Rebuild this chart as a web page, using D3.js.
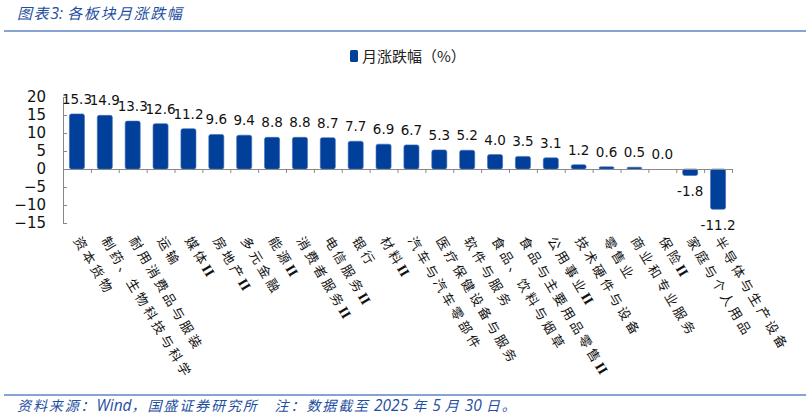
<!DOCTYPE html>
<html>
<head>
<meta charset="utf-8">
<script src="https://d3js.org/d3.v7.min.js"></script>
<style type="text/css">
body {margin:0;background:#fff;}
svg {display:block;}
.num {font-family:"DejaVu Sans",Verdana,sans-serif;font-size:13.5px;fill:#111;}
.cat {font-family:"Noto Sans CJK SC",sans-serif;font-size:13px;fill:#111;}
.cat .lat {font-family:"Liberation Serif",serif;font-weight:bold;font-size:14px;letter-spacing:0;}
.cat .han {letter-spacing:3.3px;}
.note {font-family:"Noto Sans CJK SC",sans-serif;font-style:italic;fill:#1f4f9f;}
.note .lat {font-family:"Open Sans","DejaVu Sans",sans-serif;letter-spacing:0;}
</style>
</head>
<body>
<svg id="chart" width="810" height="419"></svg>
<script type="text/javascript">
// categories and monthly change (%)
var cats = ["资本货物","制药、生物科技与科学","耐用消费品与服装","运输","媒体II","房地产II","多元金融",
  "能源II","消费者服务II","电信服务II","银行","材料II","汽车与汽车零部件","医疗保健设备与服务",
  "软件与服务","食品、饮料与烟草","食品与主要用品零售II","公用事业II","技术硬件与设备","零售业",
  "商业和专业服务","保险II","家庭与个人用品","半导体与生产设备"];
var vals = [15.3,14.9,13.3,12.6,11.2,9.6,9.4,8.8,8.8,8.7,7.7,6.9,6.7,5.3,5.2,4.0,3.5,3.1,1.2,0.6,0.5,0.0,-1.8,-11.2];
var yTicks = [20,15,10,5,0,-5,-10,-15];
var seriesName = "月涨跌幅（%）";
var titleText = "图表3:  各板块月涨跌幅";
var sourceText = "资料来源：Wind，国盛证券研究所　注：数据截至 2025 年 5 月 30 日。";

var barColor = "#00409a";
var svg = d3.select("#chart");

// split a string into CJK / latin runs so spacing only hits the CJK part
function runs(s) {
  return s.match(/[\u3000-\u9fff\uff00-\uffef]+|[^\u3000-\u9fff\uff00-\uffef]+/g).map(function(t){
    return {t:t, han:/[\u3000-\u9fff\uff00-\uffef]/.test(t)};
  });
}
function fill(sel, s) {
  sel.selectAll("tspan").data(runs(s)).enter().append("tspan")
    .attr("class",function(r){return r.han ? "han" : "lat";})
    .text(function(r){return r.t;});
}

var x = d3.scaleBand().domain(cats).range([63,732]).paddingInner(0.46).paddingOuter(0.23);
var bnd = d3.scaleLinear().domain([0,cats.length]).range([63,732]);
var y = d3.scaleLinear().domain([-15,20]).range([223,97]);

// title & rules
var tt = svg.append("text").attr("class","note").attr("x",17).attr("y",19).style("font-size","15px");
fill(tt, titleText);
tt.selectAll(".han").style("letter-spacing","1.6px");
tt.selectAll(".lat").style("font-size","16px");
svg.append("line").attr("x1",4).attr("x2",806).attr("y1",31).attr("y2",31)
  .attr("stroke","#86a3d3").attr("stroke-width",2);
svg.append("line").attr("x1",4).attr("x2",806).attr("y1",395).attr("y2",395)
  .attr("stroke","#86a3d3").attr("stroke-width",2);
var ft = svg.append("text").attr("class","note").attr("x",17).attr("y",411).style("font-size","14px");
fill(ft, sourceText);
ft.selectAll(".han").style("letter-spacing","1.9px");
ft.selectAll(".lat").style("font-size","15.5px");

// legend
svg.append("rect").attr("x",350).attr("y",50).attr("width",8).attr("height",12)
  .attr("rx",1.5).attr("fill",barColor);
svg.append("text").attr("x",362).attr("y",62)
  .style("font-family","'Noto Sans CJK SC',sans-serif").style("font-size","15px").style("fill","#222")
  .text(seriesName);

// y axis
var ya = svg.append("g").attr("transform","translate(63,0)")
  .call(d3.axisLeft(y).tickValues(yTicks).tickSizeInner(-4).tickSizeOuter(0).tickPadding(17));
ya.selectAll("text").attr("class","num").style("font-size","15px").attr("fill","#111");
ya.selectAll("line,path").attr("stroke","#888");

// bars
svg.selectAll("rect.bar").data(vals).enter().append("rect").attr("class","bar")
  .attr("x",function(d,i){return x(cats[i]);})
  .attr("width",x.bandwidth())
  .attr("y",function(d){return y(Math.max(0,d));})
  .attr("height",function(d){return Math.abs(y(d)-y(0));})
  .attr("rx",2)
  .attr("fill",barColor).attr("stroke","#3f6db5").attr("stroke-width",0.6);

// x axis line at zero with boundary ticks
var xa = svg.append("g").attr("transform","translate(0,"+y(0)+")")
  .call(d3.axisBottom(bnd).tickValues(d3.range(cats.length+1)).tickFormat("").tickSize(4).tickSizeOuter(0));
xa.selectAll("line,path").attr("stroke","#888");

// value labels
svg.selectAll("text.val").data(vals).enter().append("text").attr("class","num val")
  .attr("text-anchor","middle")
  .attr("x",function(d,i){return x(cats[i])+x.bandwidth()/2;})
  .attr("y",function(d){return d>=0 ? y(d)-10 : y(d)+21;})
  .text(function(d){return d.toFixed(1);});

// category labels
svg.selectAll("text.cat").data(cats).enter().append("text").attr("class","cat")
  .attr("transform",function(d){return "translate("+(x(d)+x.bandwidth()/2)+",238) rotate(59)";})
  .attr("dy","0.35em")
  .each(function(d){ fill(d3.select(this), d); });
</script>
</body>
</html>
